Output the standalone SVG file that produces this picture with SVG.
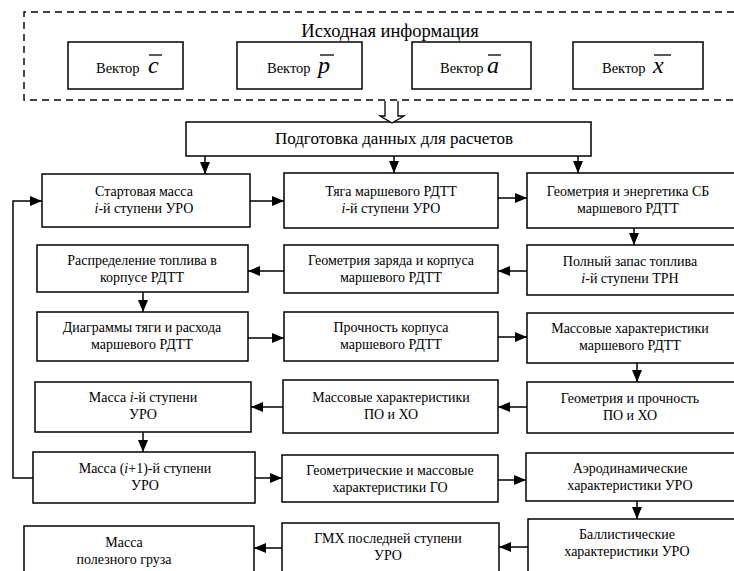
<svg xmlns="http://www.w3.org/2000/svg" width="734" height="571" viewBox="0 0 734 571">
<style>
.bx{fill:#fff;stroke:#000;stroke-width:1.5}
.c{fill:none;stroke:#000;stroke-width:1.5}
.ol{stroke:#000;stroke-width:1.3}
</style>
<defs>
<marker id="ah" markerWidth="12" markerHeight="10" refX="12" refY="5" orient="auto" markerUnits="userSpaceOnUse"><path d="M0,0 L12,5 L0,10 z" fill="#000"/></marker>
</defs>
<rect width="734" height="571" fill="#fff"/>

<g id="source">
<path d="M734,12 H24 V100 H734" fill="none" stroke="#000" stroke-width="1.4" stroke-dasharray="7,5"/>
<text x="390" y="37" font-family="Liberation Serif" font-size="18.5" text-anchor="middle">Исходная информация</text>
</g>
<g id="vec-c">
<rect class="bx" x="68" y="42" width="115" height="47"/>
<text x="96" y="73" font-family="Liberation Serif" font-size="14.5">Вектор</text><text x="148" y="73" font-family="Liberation Serif" font-size="24" font-style="italic">c</text>
<line class="ol" x1="149" y1="55" x2="162" y2="55"/>
</g>
<g id="vec-p">
<rect class="bx" x="237" y="42" width="125" height="47"/>
<text x="267" y="73" font-family="Liberation Serif" font-size="14.5">Вектор</text><text x="318" y="73" font-family="Liberation Serif" font-size="24" font-style="italic">p</text>
<line class="ol" x1="320" y1="55" x2="334" y2="55"/>
</g>
<g id="vec-a">
<rect class="bx" x="412" y="42" width="119" height="47"/>
<text x="440" y="73" font-family="Liberation Serif" font-size="14.5">Вектор</text><text x="487" y="73" font-family="Liberation Serif" font-size="24" font-style="italic">a</text>
<line class="ol" x1="488" y1="55" x2="501" y2="55"/>
</g>
<g id="vec-x">
<rect class="bx" x="573" y="42" width="130" height="47"/>
<text x="602" y="73" font-family="Liberation Serif" font-size="14.5">Вектор</text><text x="653" y="73" font-family="Liberation Serif" font-size="24" font-style="italic">x</text>
<line class="ol" x1="654" y1="55" x2="671" y2="55"/>
</g>

<g id="prep">
<rect class="bx" x="186" y="122" width="405" height="34"/>
<text x="394" y="144" font-family="Liberation Serif" font-size="17" text-anchor="middle">Подготовка данных для расчетов</text>
</g>

<g id="A"><rect class="bx" x="42" y="174" width="208" height="53"/>
<text x="144" y="196" font-family="Liberation Serif" font-size="14" text-anchor="middle">Стартовая масса</text><text x="144" y="213" font-family="Liberation Serif" font-size="14" text-anchor="middle"><tspan font-style="italic">i</tspan>-й ступени УРО</text></g>
<g id="B"><rect class="bx" x="284" y="173" width="214" height="55"/>
<text x="391" y="196" font-family="Liberation Serif" font-size="14" text-anchor="middle">Тяга маршевого РДТТ</text><text x="391" y="213" font-family="Liberation Serif" font-size="14" text-anchor="middle"><tspan font-style="italic">i</tspan>-й ступени УРО</text></g>
<g id="C"><rect class="bx" x="527" y="173" width="215" height="55"/>
<text x="628" y="196" font-family="Liberation Serif" font-size="14" text-anchor="middle">Геометрия и энергетика СБ</text><text x="628" y="213" font-family="Liberation Serif" font-size="14" text-anchor="middle">маршевого РДТТ</text></g>

<g id="D"><rect class="bx" x="37" y="245" width="211" height="47"/>
<text x="142" y="265" font-family="Liberation Serif" font-size="14" text-anchor="middle">Распределение топлива в</text><text x="142" y="282" font-family="Liberation Serif" font-size="14" text-anchor="middle">корпусе РДТТ</text></g>
<g id="E"><rect class="bx" x="284" y="245" width="214" height="48"/>
<text x="391" y="265" font-family="Liberation Serif" font-size="14" text-anchor="middle">Геометрия заряда и корпуса</text><text x="391" y="282" font-family="Liberation Serif" font-size="14" text-anchor="middle">маршевого РДТТ</text></g>
<g id="F"><rect class="bx" x="527" y="245" width="215" height="50"/>
<text x="630" y="266" font-family="Liberation Serif" font-size="14" text-anchor="middle">Полный запас топлива</text><text x="630" y="283" font-family="Liberation Serif" font-size="14" text-anchor="middle"><tspan font-style="italic">i</tspan>-й ступени ТРН</text></g>

<g id="G"><rect class="bx" x="37" y="312" width="211" height="49"/>
<text x="142" y="332" font-family="Liberation Serif" font-size="14" text-anchor="middle">Диаграммы тяги и расхода</text><text x="142" y="349" font-family="Liberation Serif" font-size="14" text-anchor="middle">маршевого РДТТ</text></g>
<g id="H"><rect class="bx" x="284" y="312" width="214" height="49"/>
<text x="391" y="332" font-family="Liberation Serif" font-size="14" text-anchor="middle">Прочность корпуса</text><text x="391" y="349" font-family="Liberation Serif" font-size="14" text-anchor="middle">маршевого РДТТ</text></g>
<g id="I"><rect class="bx" x="527" y="313" width="215" height="50"/>
<text x="630" y="333" font-family="Liberation Serif" font-size="14" text-anchor="middle">Массовые характеристики</text><text x="630" y="350" font-family="Liberation Serif" font-size="14" text-anchor="middle">маршевого РДТТ</text></g>

<g id="J"><rect class="bx" x="35" y="382" width="216" height="50"/>
<text x="143" y="402" font-family="Liberation Serif" font-size="14" text-anchor="middle">Масса <tspan font-style="italic">i</tspan>-й ступени</text><text x="143" y="419" font-family="Liberation Serif" font-size="14" text-anchor="middle">УРО</text></g>
<g id="K"><rect class="bx" x="283" y="380" width="215" height="53"/>
<text x="391" y="402" font-family="Liberation Serif" font-size="14" text-anchor="middle">Массовые характеристики</text><text x="391" y="419" font-family="Liberation Serif" font-size="14" text-anchor="middle">ПО и ХО</text></g>
<g id="L"><rect class="bx" x="527" y="382" width="215" height="51"/>
<text x="630" y="403" font-family="Liberation Serif" font-size="14" text-anchor="middle">Геометрия и прочность</text><text x="630" y="420" font-family="Liberation Serif" font-size="14" text-anchor="middle">ПО и ХО</text></g>

<g id="M"><rect class="bx" x="33" y="452" width="222" height="51"/>
<text x="145" y="473" font-family="Liberation Serif" font-size="14" text-anchor="middle">Масса (<tspan font-style="italic">i</tspan>+1)-й ступени</text><text x="145" y="490" font-family="Liberation Serif" font-size="14" text-anchor="middle">УРО</text></g>
<g id="N"><rect class="bx" x="282" y="455" width="216" height="47"/>
<text x="390" y="475" font-family="Liberation Serif" font-size="14" text-anchor="middle">Геометрические и массовые</text><text x="390" y="492" font-family="Liberation Serif" font-size="14" text-anchor="middle">характеристики ГО</text></g>
<g id="O"><rect class="bx" x="526" y="453" width="216" height="48"/>
<text x="630" y="473" font-family="Liberation Serif" font-size="14" text-anchor="middle">Аэродинамические</text><text x="630" y="490" font-family="Liberation Serif" font-size="14" text-anchor="middle">характеристики УРО</text></g>

<g id="R"><rect class="bx" x="24" y="526" width="230" height="60"/>
<text x="124" y="547" font-family="Liberation Serif" font-size="14" text-anchor="middle">Масса</text><text x="124" y="564" font-family="Liberation Serif" font-size="14" text-anchor="middle">полезного груза</text></g>
<g id="Q"><rect class="bx" x="282" y="523" width="217" height="60"/>
<text x="388" y="543" font-family="Liberation Serif" font-size="14" text-anchor="middle">ГМХ последней ступени</text><text x="388" y="560" font-family="Liberation Serif" font-size="14" text-anchor="middle">УРО</text></g>
<g id="P"><rect class="bx" x="528" y="519" width="214" height="60"/>
<text x="627" y="539" font-family="Liberation Serif" font-size="14" text-anchor="middle">Баллистические</text><text x="627" y="556" font-family="Liberation Serif" font-size="14" text-anchor="middle">характеристики УРО</text></g>

<g id="connectors">
<path d="M385,101 V116 H380 L392,123 L404,116 H398 V101" fill="#fff" stroke="#000" stroke-width="1.3"/>
<line class="c" x1="205" y1="156" x2="205" y2="174" marker-end="url(#ah)"/>
<line class="c" x1="394" y1="156" x2="394" y2="173" marker-end="url(#ah)"/>
<line class="c" x1="578" y1="156" x2="578" y2="173" marker-end="url(#ah)"/>
<line class="c" x1="250" y1="201" x2="284" y2="201" marker-end="url(#ah)"/>
<line class="c" x1="498" y1="198" x2="527" y2="198" marker-end="url(#ah)"/>
<line class="c" x1="634" y1="228" x2="634" y2="245" marker-end="url(#ah)"/>
<line class="c" x1="527" y1="271" x2="498" y2="271" marker-end="url(#ah)"/>
<line class="c" x1="284" y1="271" x2="248" y2="271" marker-end="url(#ah)"/>
<line class="c" x1="143" y1="292" x2="143" y2="312" marker-end="url(#ah)"/>
<line class="c" x1="248" y1="338" x2="284" y2="338" marker-end="url(#ah)"/>
<line class="c" x1="498" y1="337" x2="527" y2="337" marker-end="url(#ah)"/>
<line class="c" x1="637" y1="363" x2="637" y2="382" marker-end="url(#ah)"/>
<line class="c" x1="527" y1="407" x2="498" y2="407" marker-end="url(#ah)"/>
<line class="c" x1="283" y1="407" x2="251" y2="407" marker-end="url(#ah)"/>
<line class="c" x1="143" y1="432" x2="143" y2="452" marker-end="url(#ah)"/>
<line class="c" x1="255" y1="478" x2="282" y2="478" marker-end="url(#ah)"/>
<line class="c" x1="498" y1="480" x2="526" y2="480" marker-end="url(#ah)"/>
<line class="c" x1="637" y1="501" x2="637" y2="519" marker-end="url(#ah)"/>
<line class="c" x1="528" y1="547" x2="499" y2="547" marker-end="url(#ah)"/>
<line class="c" x1="282" y1="548" x2="254" y2="548" marker-end="url(#ah)"/>
<path class="c" d="M33,478 H13 V201 H42" marker-end="url(#ah)"/>
</g>
</svg>
